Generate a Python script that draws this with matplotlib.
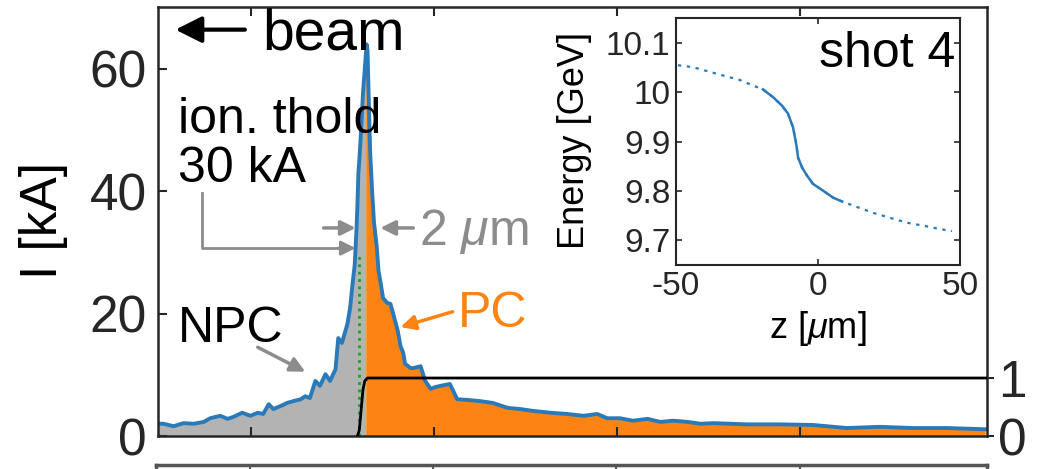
import numpy as np
import matplotlib.pyplot as plt

plt.rcParams['font.family'] = ['Liberation Sans', 'DejaVu Sans']
plt.rcParams['mathtext.fontset'] = 'custom'
plt.rcParams['mathtext.rm'] = 'Liberation Sans'
plt.rcParams['mathtext.it'] = 'Liberation Sans:italic'
plt.rcParams['axes.unicode_minus'] = False

# current profile: z [um], I [kA]
z_prof = [-30.2, -29.6, -28.5, -27.4, -26.3, -25.2, -24.5, -23.4, -22.6, -22.0,
          -21.0, -20.1, -19.3, -18.7, -18.1, -17.6, -16.8, -16.1, -15.4, -14.6,
          -14.1, -13.6, -13.0, -12.5, -11.9, -11.4, -10.8, -10.5, -10.1, -9.5,
          -9.2, -9.0, -8.7, -8.6, -8.5, -8.4, -8.3, -8.2, -8.0, -7.8,
          -7.5, -7.4, -7.3, -7.2, -7.1, -7.0, -6.8, -6.6, -6.3, -6.1,
          -5.9, -5.6, -5.1, -4.8, -4.5, -4.0, -3.7, -3.4, -3.2, -2.6,
          -2.3, -1.5, -1.0, -0.4, 0.1, 0.7, 1.7, 2.5, 3.6, 5.0,
          6.4, 8.0, 9.4, 10.8, 12.7, 14.5, 16.3, 17.8, 18.9, 20.3,
          21.7, 23.3, 24.7, 26.1, 27.7, 29.1, 30.5, 34.2, 37.8, 41.4,
          45.1, 48.7, 52.3, 56.1, 60.2]
i_prof = [2.0, 2.0, 1.6, 2.1, 2.0, 2.3, 2.9, 3.3, 2.8, 3.1,
          3.8, 3.3, 3.8, 3.6, 5.2, 4.4, 4.9, 5.4, 5.7, 6.0,
          6.5, 6.2, 9.0, 8.2, 10.1, 9.0, 10.9, 16.0, 15.2, 18.3,
          21.0, 24.0, 28.0, 31.0, 34.0, 38.0, 43.0, 45.0, 50.0, 56.0,
          62.0, 64.0, 63.0, 57.0, 51.0, 46.0, 40.0, 35.0, 31.0, 27.0,
          25.3, 22.5, 21.7, 21.6, 20.0, 17.2, 14.7, 13.6, 11.8, 11.1,
          11.1, 11.4, 9.0, 7.7, 8.0, 8.2, 8.5, 6.0, 5.9, 5.7,
          5.4, 4.6, 4.4, 4.1, 3.8, 3.6, 3.3, 3.6, 2.9, 2.9,
          2.5, 2.8, 2.3, 2.5, 2.3, 2.0, 2.1, 1.9, 1.9, 1.8,
          1.3, 1.5, 1.3, 1.3, 1.1]

z_split = -7.5     # NPC / PC boundary
z_thold = -8.2     # ionisation threshold position
i_thold = 30

# normalised step on the right axis
z_step = [-8.4, -8.2, -8.0, -7.8, -7.6, -7.3, 60.4]
s_step = [0, 0.1, 0.45, 0.8, 0.95, 1.0, 1.0]

# inset: energy vs z
z_en = [-49.3, -44, -39, -34, -27.5, -23, -19.4, -15.8, -12.7, -10.6,
        -8.8, -7.7, -7.0, -5.6, -3.9, -1.8, 1.8, 5.3, 8.5, 13.7,
        19.4, 25.3, 31.3, 37, 43, 47.2]
e_en = [10.055, 10.051, 10.043, 10.035, 10.025, 10.014, 10.006, 9.99, 9.973, 9.957,
        9.929, 9.896, 9.867, 9.847, 9.831, 9.814, 9.80, 9.786, 9.778, 9.767,
        9.755, 9.745, 9.735, 9.729, 9.722, 9.718]

blue = '#2a7ab9'
orange = '#fd8413'
grey = '#b3b3b3'
agrey = '#8c8c8c'
spine = '#262626'

z_prof = np.array(z_prof)
i_prof = np.array(i_prof)

fig = plt.figure(figsize=(10.4, 4.69), dpi=100)
ax = fig.add_axes([158/1040, 33/469, 829/1040, 429/469])

ax.fill_between(z_prof, 0, i_prof, where=z_prof <= z_split, color=grey, lw=0)
ax.fill_between(z_prof, 0, i_prof, where=z_prof >= z_split, color=orange, lw=0)
ax.plot([z_thold, z_thold], [0, i_thold], color='#1f9e1f', ls=':', lw=2)
ax.plot(z_prof, i_prof, color=blue, lw=2.8, solid_joinstyle='round')

ax.set_xlim(-30.2, 60.4)
ax.set_ylim(0, 70.1)
ax.set_xticks([-20, 0, 20, 40])
ax.set_yticks([0, 20, 40, 60])
ax.tick_params(direction='in', length=6.5, width=1.5, labelsize=37, pad=8,
               top=True, right=True, labelbottom=False, colors=spine)
for s in ax.spines.values():
    s.set_linewidth(1.8)
    s.set_color(spine)
ax.set_ylabel('I [kA]', fontsize=37)
ax.yaxis.set_label_coords(-0.108, 0.503)

# annotations
ax.annotate('', xy=(-28.3, 66.4), xytext=(-20.7, 66.4),
            arrowprops=dict(arrowstyle='-|>', color='black', lw=3, mutation_scale=40,
                            shrinkA=0, shrinkB=0))
ax.text(-18.8, 63.1, 'beam', fontsize=41, va='baseline')
ax.text(-28.0, 49.5, 'ion. thold', fontsize=36, va='baseline')
ax.text(-28.0, 41.5, '30 kA', fontsize=36, va='baseline')
ax.plot([-25.4, -25.4, -10.0], [39.7, 30.7, 30.7], color=agrey, lw=2)
ax.annotate('', xy=(-8.6, 30.7), xytext=(-10.5, 30.7),
            arrowprops=dict(arrowstyle='-|>', color=agrey, lw=2, mutation_scale=22,
                            shrinkA=0, shrinkB=0))
ax.annotate('', xy=(-8.6, 34.0), xytext=(-12.1, 34.0),
            arrowprops=dict(arrowstyle='-|>', color=agrey, lw=2.5, mutation_scale=22,
                            shrinkA=0, shrinkB=0))
ax.annotate('', xy=(-5.9, 34.0), xytext=(-2.3, 34.0),
            arrowprops=dict(arrowstyle='-|>', color=agrey, lw=2.5, mutation_scale=22,
                            shrinkA=0, shrinkB=0))
ax.text(-1.7, 31.2, r'2 $\mu$m', fontsize=36, color=agrey, va='baseline')
ax.text(-28.0, 15.4, 'NPC', fontsize=36, va='baseline')
ax.annotate('', xy=(-14.1, 10.5), xytext=(-19.3, 14.5),
            arrowprops=dict(arrowstyle='-|>', color=agrey, lw=2.5, mutation_scale=22,
                            shrinkA=0, shrinkB=0))
ax.text(2.6, 17.8, 'PC', fontsize=36, color=orange, va='baseline')
ax.annotate('', xy=(-3.7, 17.8), xytext=(2.0, 20.3),
            arrowprops=dict(arrowstyle='-|>', color=orange, lw=2.5, mutation_scale=22,
                            shrinkA=0, shrinkB=0))

# right axis with the step
ax2 = ax.twinx()
ax2.plot(z_step, s_step, color='black', lw=2)
ax2.set_ylim(0, 7.4)
ax2.set_yticks([0, 1])
ax2.set_yticklabels(['0', '1'])
ax2.tick_params(axis='y', direction='out', length=5, width=1.5, labelsize=37, pad=3,
                colors=spine)
for s in ax2.spines.values():
    s.set_visible(False)

# lower panel, only its top edge is visible
axl = fig.add_axes([156/1040, -0.5, 831/1040, 0.5 + 4/469])
axl.set_xlim(-30.2, 60.4)
axl.set_xticks([-20, 0, 20, 40])
axl.set_yticks([])
axl.tick_params(axis='x', direction='in', top=True, bottom=False, labelbottom=False,
                length=6, width=1.5, colors='#555555')
for s in axl.spines.values():
    s.set_linewidth(2.5)
    s.set_color('#555555')

# inset
axi = fig.add_axes([676/1040, 204/469, 284/1040, 247/469])
axi.plot(z_en, e_en, color=blue, lw=1.6, ls=(0, (1.5, 2.5)))
mid = [k for k, z in enumerate(z_en) if -20 <= z <= 9]
axi.plot([z_en[k] for k in mid], [e_en[k] for k in mid], color=blue, lw=1.8)
axi.set_xlim(-50, 50)
axi.set_ylim(9.649, 10.151)
axi.set_xticks([-50, 0, 50])
axi.set_yticks([9.7, 9.8, 9.9, 10.0, 10.1])
axi.set_yticklabels(['9.7', '9.8', '9.9', '10', '10.1'])
axi.tick_params(direction='in', length=4, width=1.2, labelsize=24, pad=4,
                top=True, right=True, colors=spine)
for s in axi.spines.values():
    s.set_linewidth(1.5)
    s.set_color(spine)
axi.set_xlabel(r'z [$\mu$m]', fontsize=26)
axi.set_ylabel('Energy [GeV]', fontsize=26)
axi.xaxis.set_label_coords(0.5, -0.18)
axi.yaxis.set_label_coords(-0.296, 0.506)
axi.text(0.982, 0.80, 'shot 4', transform=axi.transAxes, fontsize=36,
         ha='right', va='baseline')

fig.savefig('out.png', dpi=100)
